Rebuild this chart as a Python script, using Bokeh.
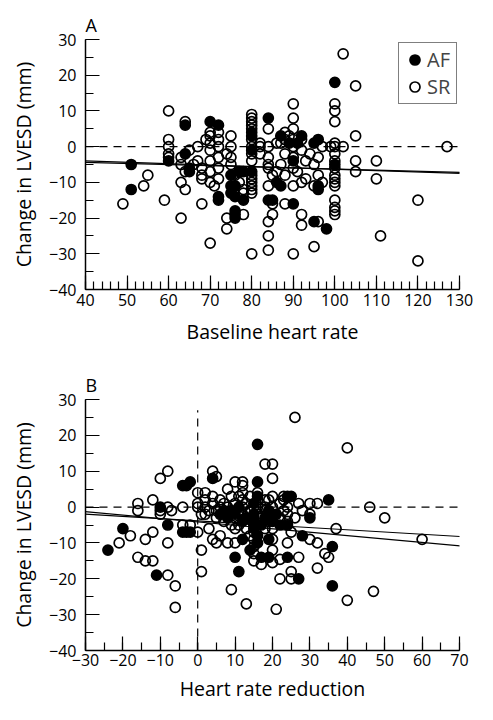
from bokeh.plotting import figure
from bokeh.models import (Range1d, SingleIntervalTicker, CustomJSTickFormatter, Span,
                          Slope, Legend, LegendItem)
from bokeh.layouts import column
from bokeh.embed import file_html
from bokeh.resources import INLINE

# ---------------- Panel A data: baseline heart rate vs change in LVESD ----------------
a_af_x = [51, 51, 60, 64, 64, 65, 65, 70, 72, 72, 72, 75, 75, 75, 76, 76, 76, 76, 76,
          77, 78, 78, 80, 80, 80, 80, 84, 84, 85, 86, 87, 87, 89, 90, 90, 91, 92, 95,
          95, 96, 96, 96, 98, 100, 100]
a_af_y = [-5, -12, -4, 6, -2, -6, -7, 7, 6, -15, -14, -8, -11, -13, -11, -14, -18, -19, -20,
          -7, -7, -15, 4, 3, -1, -7, 8, -15, -15, -10, -11, 3, 1, -16, -4, 1, 3, 1,
          -21, 2, -11, -12, -23, 18, -5]

a_sr_x = [49, 54, 55, 59, 60, 60, 60, 60, 60,
          63, 63, 63, 63, 64, 64, 64, 65,
          66, 67, 67, 68, 68, 68, 68,
          69, 70, 70, 70, 70, 70, 70, 70, 70,
          71, 72, 72, 72, 72, 72, 72,
          74, 74, 74, 75, 75, 75, 75,
          76, 77, 78, 78, 78,
          80, 80, 80, 80, 80, 80, 80, 80, 80, 80, 80, 80, 80, 80, 80, 80,
          82, 82, 82,
          84, 84, 84, 84, 84, 84, 84, 84, 84, 85, 85, 85, 86,
          86, 87, 87, 88, 88, 88, 88, 88,
          89, 90, 90, 90, 90, 90, 90, 90, 90, 90, 91,
          92, 92, 92, 92, 92, 93, 93,
          94, 95, 95, 95, 96, 96, 96, 97, 97,
          99, 100, 100, 100, 100, 100, 100, 100, 100, 100, 100, 100, 100, 100, 100, 100, 100,
          102, 102, 105, 105, 105, 105, 110, 110, 111, 120, 120, 127]
a_sr_y = [-16, -11, -8, -15, 10, 2, 0, -2, -3,
          -3, -5, -10, -20, 7, -7, -12, -1,
          -5, -4, 0, -6, -8, -9, -16,
          2, 4, 3, 1, -1, -4, -7, -10, -27,
          -11, 4, 2, 0, -3, -6, -9,
          -20, -23, -2, 3, 0, -3, -5,
          -8, -10, -19, -13, -12,
          9, 8, 7, 6, 5, 2, 0, -2, -4, -8, -9, -10, -11, -12, -13, -30,
          1, 0, -2,
          5, 0, -3, -5, -6, -11, -21, -25, -29, -16, -19, -8, -7,
          1, 1, -5, 4, 2, -2, -8, -16,
          3, 12, 8, 5, 2, 0, -3, -6, -11, -30, -7,
          2, -1, -10, -19, -22, -4, -9,
          -2, -5, -11, -28, -3, -8, -21, 0, -10,
          0, 12, 10, 7, 1, 0, -2, -4, -6, -8, -9, -10, -11, -15, -17, -18, -19,
          26, 0, 17, 3, -4, -7, -4, -9, -25, -15, -32, 0]

# ---------------- Panel B data: heart rate reduction vs change in LVESD ----------------
b_af_x = [-24, -20, -11, -10, -8, -4, -3, -2, -4, -3, -2, 4, 6, 7, 8, 9, 10, 10, 11, 11,
          12, 12, 13, 14, 15, 15, 15, 15, 16, 16, 16, 16, 16, 17, 17, 18, 19, 19, 19, 20,
          21, 22, 24, 24, 24, 25, 27, 28, 30, 35, 36, 36]
b_af_y = [-12, -6, -19, 0, -5, 6, 6, 7, -7, -7, -7, 8, -2, -1, -3, -1, -2, -14, 0, -18,
          -4, -9, -3, -12, 1, -2, -4, -6, -8, -10, 3, 7, 17.5, -5, -14, -3, -1, -9, -14, -4,
          -2, -5, -5, 3, -14, 3, -20, -8, -3, 2, -11, -22]

b_sr_x = [-21, -18, -16, -16, -16, -14, -14, -12, -12, -12, -10, -10, -10, -8, -8, -8, -8, -7,
          -6, -6, -4, -4, -2,
          0, 0, 0, 0, 1, 1, 1, 2, 2, 2, 2, 3, 3, 4, 4, 4, 4, 5, 5, 5, 5, 6, 6, 6,
          7, 7, 8, 8, 8, 8, 9, 9, 9, 10, 10, 10, 10, 10, 11, 11, 11, 12, 12, 12, 12, 12, 12,
          13, 13, 13, 14, 14, 14, 15, 15, 15, 15, 15, 15, 15, 15, 16, 16, 16, 16, 17, 17,
          18, 18, 18, 18, 18, 19, 19, 20, 20, 20, 20, 20, 20, 20, 20, 20, 21, 22, 22, 22, 22,
          23, 23, 23, 24, 24, 24, 24, 25, 25, 25, 26, 26, 27, 27, 28, 30, 30, 30, 32, 32, 32,
          34, 35, 37, 40, 40, 46, 47, 50, 60]
b_sr_y = [-10, -8, 1, -1, -14, -9, -15, 2, -15, -7, 8, -2, -1, 10, 0, -10, -19, -1,
          -22, -28, 0, -5, -5,
          4, 1, 0, -7, -2, -12, -18, 4, 2, 0, -2, -1, -6, 10, 3, 1, -9, 8.5, -1, -3, -10, 2, 0, -8,
          -4, 1, 5, -2, 0, -10, -23, 3, -5, 7, 1, -3, -6, -10, 3, -1, -5, 7, 6, 4, 2, 0, -2,
          -27, -6, 1, 3, -1, -8, 0, -3, -5, -7, -9, -11, -13, -15, 4, 0, 2, -2, -16, -3,
          12, 2, 0, -1, -6, -4, 2, 12, 8, 3, 0, -2, -6, -9, -12, -15.5, -28.5, -20, 1, -14.6, -3, -1, 3,
          2, -4, -10, 0, -2, -7, -18, -20, 25, -3, 1, -14, -1, 1, -2, -9, 1, -10, -17, -13, -14, -6,
          -26, 16.5, 0, -23.5, -3, -9, 0, -8, -30]

# ---------------- fitted regression lines (gradient, intercept) ----------------
a_fit_slope = [-0.0389, -0.0311]
a_fit_icpt = [-2.44, -3.16]
b_fit_slope = [-0.062, -0.095]
b_fit_icpt = [-3.86, -4.15]

a_xrange = (40, 130)
b_xrange = (-30, 70)
y_range = (-40, 30)
b_vline_top = 27

FONT = "Open Sans"
TICK_FMT = "return (tick < 0 ? '\u2212' : '') + Math.abs(tick);"


def make_panel(title, xr, xlabel, x_minor, height, top, bottom):
    p = figure(width=477, height=height, output_backend="svg", toolbar_location=None,
               x_range=Range1d(*xr), y_range=Range1d(*y_range),
               min_border_left=85, min_border_right=18, min_border_top=top,
               min_border_bottom=bottom, background_fill_color="white",
               border_fill_color="white")
    p.outline_line_color = None
    p.grid.visible = False
    p.title.text = title
    p.title.text_font = FONT
    p.title.text_font_size = "18px"
    p.title.text_font_style = "normal"
    p.title.text_color = "black"
    p.title.align = "left"
    p.title.standoff = 6
    p.xaxis.ticker = SingleIntervalTicker(interval=10, num_minor_ticks=x_minor)
    p.yaxis.ticker = SingleIntervalTicker(interval=10, num_minor_ticks=2)
    for ax in (p.xaxis, p.yaxis):
        ax.formatter = CustomJSTickFormatter(code=TICK_FMT)
        ax.axis_line_width = 1.5
        ax.axis_line_color = "black"
        ax.major_tick_in = 14
        ax.major_tick_out = 0
        ax.minor_tick_in = 8
        ax.minor_tick_out = 0
        ax.major_tick_line_width = 1.2
        ax.minor_tick_line_width = 1.2
        ax.major_tick_line_color = "black"
        ax.minor_tick_line_color = "black"
        ax.major_label_text_font = FONT
        ax.major_label_text_font_size = "16px"
        ax.major_label_text_color = "black"
        ax.axis_label_text_font = FONT
        ax.axis_label_text_font_size = "19.5px"
        ax.axis_label_text_font_style = "normal"
        ax.axis_label_text_color = "black"
    p.xaxis.axis_label = xlabel
    p.xaxis.major_label_standoff = 4
    p.xaxis.axis_label_standoff = 9
    p.yaxis.axis_label = "Change in LVESD (mm)"
    p.yaxis.major_label_standoff = 9
    p.yaxis.axis_label_standoff = 9
    p.add_layout(Span(location=0, dimension="width", line_color="black",
                      line_dash="8 6", line_width=1.2))
    return p


def add_points(p, afx, afy, srx, sry):
    af = p.scatter(afx, afy, marker="circle", size=10, fill_color="black",
                   line_color="black", line_width=1.7)
    sr = p.scatter(srx, sry, marker="circle", size=10, fill_alpha=0,
                   line_color="black", line_width=1.7)
    return af, sr


pa = make_panel("A", a_xrange, "Baseline heart rate", 5, 358, 39, 69)
for s, c in zip(a_fit_slope, a_fit_icpt):
    pa.add_layout(Slope(gradient=s, y_intercept=c, line_color="black", line_width=1.2))
af_a, sr_a = add_points(pa, a_af_x, a_af_y, a_sr_x, a_sr_y)
legend = Legend(items=[LegendItem(label="AF", renderers=[af_a]),
                       LegendItem(label="SR", renderers=[sr_a])],
                location=(313, 185), margin=0, padding=3, spacing=0,
                glyph_width=25, glyph_height=25, label_height=25, label_width=26,
                label_standoff=0, label_text_font=FONT, label_text_font_size="20px",
                border_line_color="black", border_line_width=1,
                background_fill_color="white", background_fill_alpha=1)
pa.add_layout(legend)

pb = make_panel("B", b_xrange, "Heart rate reduction", 2, 346, 41, 54)
pb.xaxis.major_label_standoff = 3
pb.xaxis.axis_label_standoff = 6
pb.segment(x0=[0], y0=[y_range[0]], x1=[0], y1=[b_vline_top], line_color="black",
           line_dash="8 6", line_width=1.2)
for s, c in zip(b_fit_slope, b_fit_icpt):
    pb.add_layout(Slope(gradient=s, y_intercept=c, line_color="black", line_width=1.2))
add_points(pb, b_af_x, b_af_y, b_sr_x, b_sr_y)

layout = column(pa, pb)
open("out.html", "w").write(file_html(layout, INLINE))
